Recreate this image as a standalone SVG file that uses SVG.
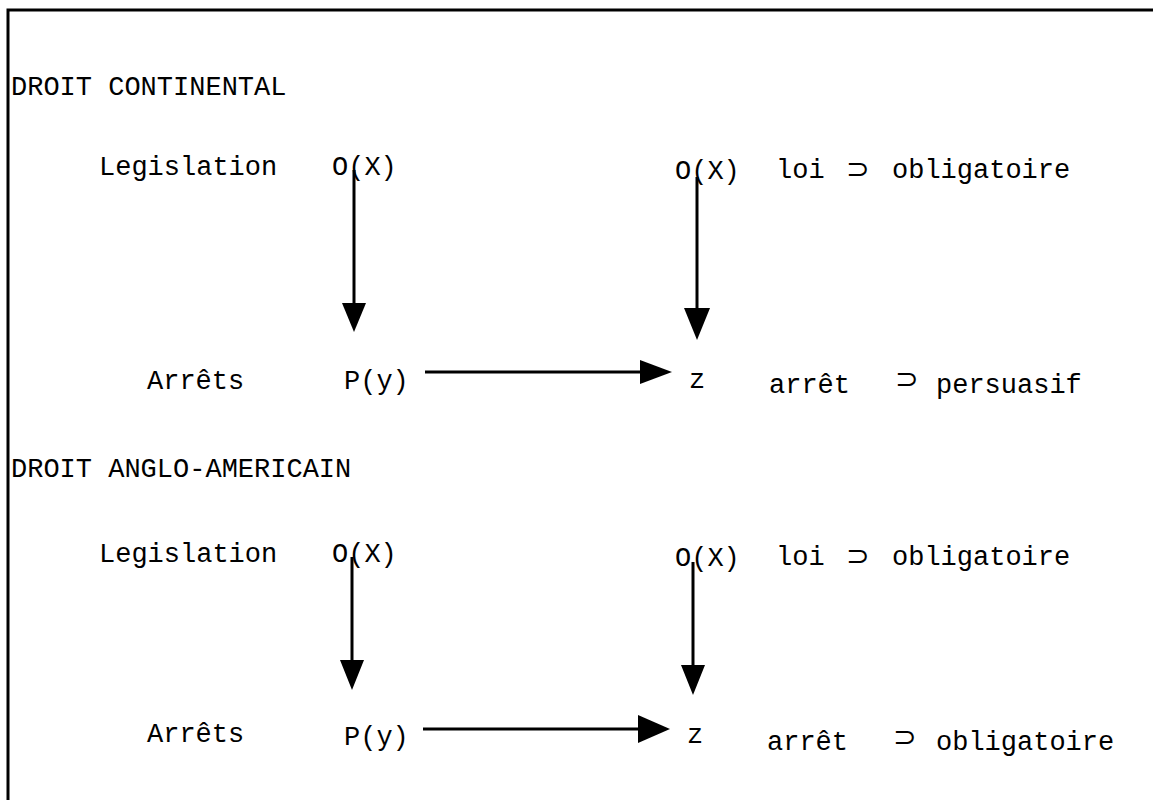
<svg xmlns="http://www.w3.org/2000/svg" width="1153" height="800" viewBox="0 0 1153 800">
<style>
  text { font-family: "Liberation Mono", "Courier New", monospace; font-size: 27px; fill: #000; }
  text.sym { font-family: "DejaVu Sans", "Noto Sans", sans-serif; font-size: 28px; }
  .ln { stroke: #000; stroke-width: 3; fill: none; }
  .hd { fill: #000; stroke: none; }
</style>
<rect x="0" y="0" width="1153" height="800" fill="#fff"/>
<path class="ln" d="M8,800 V10 H1153"/>

<g id="title-continental"><text x="11" y="95">DROIT CONTINENTAL</text></g>
<g id="c-legislation"><text x="99" y="175">Legislation</text></g>
<g id="c-ox-left"><text x="332" y="175">O(X)</text></g>
<g id="c-ox-right"><text x="675" y="179">O(X)</text></g>
<g id="c-loi"><text x="776" y="178">loi</text><text class="sym" x="846" y="178">⊃</text><text x="892" y="178">obligatoire</text></g>
<g id="c-arrets"><text x="147" y="389">Arrêts</text></g>
<g id="c-py"><text x="344" y="389">P(y)</text></g>
<g id="c-z"><text x="689" y="388">z</text></g>
<g id="c-arret"><text x="769" y="393">arrêt</text><text class="sym" x="895" y="388">⊃</text><text x="936" y="393">persuasif</text></g>

<g id="title-anglo"><text x="11" y="477">DROIT ANGLO-AMERICAIN</text></g>
<g id="a-legislation"><text x="99" y="562">Legislation</text></g>
<g id="a-ox-left"><text x="332" y="562">O(X)</text></g>
<g id="a-ox-right"><text x="675" y="566">O(X)</text></g>
<g id="a-loi"><text x="776" y="565">loi</text><text class="sym" x="846" y="565">⊃</text><text x="892" y="565">obligatoire</text></g>
<g id="a-arrets"><text x="147" y="742">Arrêts</text></g>
<g id="a-py"><text x="344" y="745">P(y)</text></g>
<g id="a-z"><text x="687" y="743">z</text></g>
<g id="a-arret"><text x="767" y="750">arrêt</text><text class="sym" x="893" y="746">⊃</text><text x="936" y="750">obligatoire</text></g>

<g id="connectors">
  <line class="ln" x1="354" y1="170" x2="354" y2="305"/>
  <polygon class="hd" points="342,303 366,303 354,332"/>
  <line class="ln" x1="697" y1="177" x2="697" y2="310"/>
  <polygon class="hd" points="684,308 710,308 697,340"/>
  <line class="ln" x1="425" y1="372" x2="642" y2="372"/>
  <polygon class="hd" points="640,360 640,384 672,372"/>

  <line class="ln" x1="352" y1="557" x2="352" y2="662"/>
  <polygon class="hd" points="340,660 364,660 352,690"/>
  <line class="ln" x1="693" y1="562" x2="693" y2="667"/>
  <polygon class="hd" points="681,665 705,665 693,695"/>
  <line class="ln" x1="423" y1="729" x2="640" y2="729"/>
  <polygon class="hd" points="638,715 638,743 670,729"/>
</g>
</svg>
